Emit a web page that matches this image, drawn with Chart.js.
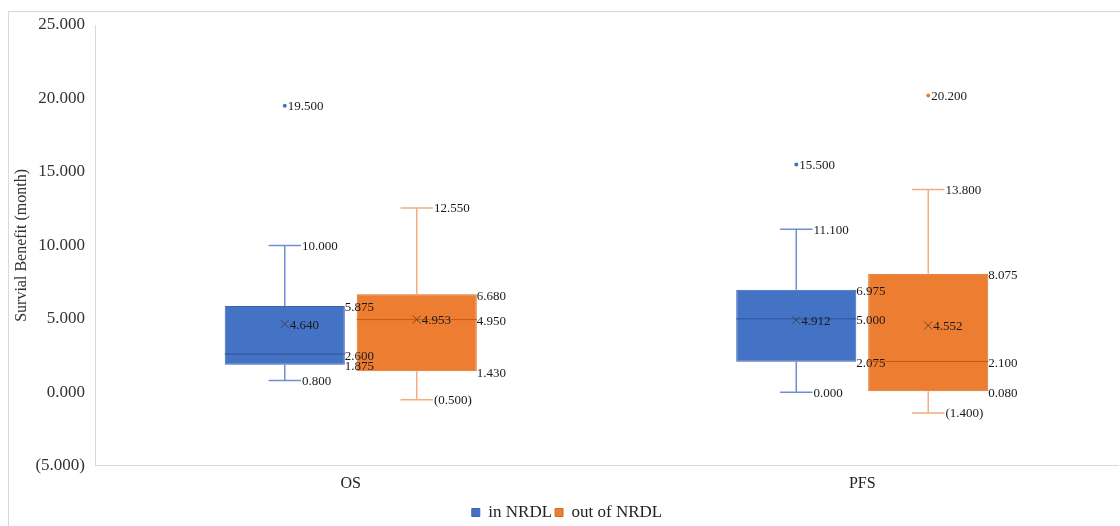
<!DOCTYPE html>
<html>
<head>
<meta charset="utf-8">
<script src="https://cdn.jsdelivr.net/npm/chart.js@4"></script>
<style>
  html, body { margin: 0; padding: 0; background: #fff; }
  #wrap { position: relative; width: 1120px; height: 526px; }
  #frame { position: absolute; left: 8px; top: 11px; right: 0; bottom: 0;
           border-left: 1px solid #d9d9d9; border-top: 1px solid #d9d9d9; }
  #chart { position: absolute; left: 0; top: 0; }
</style>
</head>
<body>
<div id="wrap">
  <div id="frame"></div>
  <canvas id="chart" width="1120" height="526"></canvas>
</div>
<script>
// Categories and series
const categories = ['OS', 'PFS'];
const seriesNames = ['in NRDL', 'out of NRDL'];

// in NRDL box stats
const inMin = [0.8, 0.0];
const inQ1 = [1.875, 2.075];
const inMedian = [2.6, 5.0];
const inQ3 = [5.875, 6.975];
const inMax = [10.0, 11.1];
const inMean = [4.640, 4.912];
const inOutliers = [[19.5], [15.5]];

// out of NRDL box stats
const outMin = [-0.5, -1.4];
const outQ1 = [1.43, 0.08];
const outMedian = [4.95, 2.1];
const outQ3 = [6.68, 8.075];
const outMax = [12.55, 13.8];
const outMean = [4.953, 4.552];
const outOutliers = [[], [20.2]];

// y axis ticks
const yMin = -5;
const yMax = 25;
const yStep = 5;

const boxStats = [
  { min: inMin, q1: inQ1, median: inMedian, q3: inQ3, max: inMax, mean: inMean, outliers: inOutliers },
  { min: outMin, q1: outQ1, median: outMedian, q3: outQ3, max: outMax, mean: outMean, outliers: outOutliers }
];

const fillColors = ['#4472C4', '#ED7D31'];
const edgeColors = ['#3b64ae', '#d96d26'];
const whiskerColors = ['#6f8fd2', '#f2ac7f'];
const medianColors = ['#2f5597', '#c55a11'];

const serif = "'Liberation Serif', 'Times New Roman', serif";

function fmt(v) {
  return v < 0 ? '(' + Math.abs(v).toFixed(3) + ')' : v.toFixed(3);
}

// Draws whiskers, medians, means, outliers and value labels on top of the boxes
const boxPlugin = {
  id: 'boxWhiskers',
  afterDatasetsDraw(chart) {
    const ctx = chart.ctx;
    const y = chart.scales.y;
    ctx.save();
    chart.data.datasets.forEach((ds, d) => {
      const meta = chart.getDatasetMeta(d);
      const s = boxStats[d];
      meta.data.forEach((bar, i) => {
        const cx = bar.x;
        const half = bar.width / 2;
        const right = cx + half;
        const cap = bar.width * 0.135;
        const pMin = y.getPixelForValue(s.min[i]);
        const pQ1 = y.getPixelForValue(s.q1[i]);
        const pMed = y.getPixelForValue(s.median[i]);
        const pQ3 = y.getPixelForValue(s.q3[i]);
        const pMax = y.getPixelForValue(s.max[i]);
        const pMean = y.getPixelForValue(s.mean[i]);

        // whiskers
        ctx.strokeStyle = whiskerColors[d];
        ctx.lineWidth = 1.5;
        ctx.beginPath();
        ctx.moveTo(cx, pQ3); ctx.lineTo(cx, pMax);
        ctx.moveTo(cx, pQ1); ctx.lineTo(cx, pMin);
        ctx.moveTo(cx - cap, pMax); ctx.lineTo(cx + cap, pMax);
        ctx.moveTo(cx - cap, pMin); ctx.lineTo(cx + cap, pMin);
        ctx.stroke();

        // median
        ctx.strokeStyle = medianColors[d];
        ctx.lineWidth = 1;
        ctx.beginPath();
        ctx.moveTo(cx - half, pMed); ctx.lineTo(right, pMed);
        ctx.stroke();

        // mean marker
        ctx.strokeStyle = 'rgba(50,50,50,0.7)';
        ctx.beginPath();
        ctx.moveTo(cx - 4, pMean - 4); ctx.lineTo(cx + 4, pMean + 4);
        ctx.moveTo(cx - 4, pMean + 4); ctx.lineTo(cx + 4, pMean - 4);
        ctx.stroke();

        // outliers
        ctx.fillStyle = fillColors[d];
        s.outliers[i].forEach(v => {
          ctx.beginPath();
          ctx.arc(cx, y.getPixelForValue(v), 2, 0, Math.PI * 2);
          ctx.fill();
        });

        // labels
        ctx.fillStyle = '#1a1a1a';
        ctx.font = '13px ' + serif;
        ctx.textAlign = 'left';
        ctx.textBaseline = 'middle';
        ctx.fillText(fmt(s.max[i]), cx + cap + 1, pMax + 1);
        ctx.fillText(fmt(s.min[i]), cx + cap + 1, pMin + 1);
        ctx.fillText(fmt(s.q3[i]), right, pQ3 + 2);
        ctx.fillText(fmt(s.q1[i]), right, pQ1 + 2);
        ctx.fillText(fmt(s.median[i]), right, pMed + 2);
        ctx.fillText(fmt(s.mean[i]), cx + 5, pMean + 1);
        s.outliers[i].forEach(v => {
          ctx.fillText(fmt(v), cx + 3, y.getPixelForValue(v) + 1);
        });
      });
    });
    ctx.restore();
  }
};

new Chart(document.getElementById('chart'), {
  type: 'bar',
  data: {
    labels: categories,
    datasets: seriesNames.map((name, d) => ({
      label: name,
      data: categories.map((c, i) => [boxStats[d].q1[i], boxStats[d].q3[i]]),
      backgroundColor: fillColors[d],
      borderColor: edgeColors[d],
      borderWidth: 1,
      borderSkipped: false,
      barPercentage: 0.91,
      categoryPercentage: 0.516
    }))
  },
  options: {
    responsive: false,
    animation: false,
    layout: { padding: { top: 25, right: 2, left: 16, bottom: -5 } },
    plugins: {
      tooltip: { enabled: false },
      legend: {
        position: 'bottom',
        labels: {
          boxWidth: 8,
          boxHeight: 8,
          padding: 3,
          color: '#222',
          font: { family: serif, size: 17 }
        }
      }
    },
    scales: {
      x: {
        grid: { display: false, drawTicks: false },
        border: { display: true, color: '#d9d9d9' },
        ticks: { color: '#222', padding: 8, font: { family: serif, size: 16 } }
      },
      y: {
        min: yMin,
        max: yMax,
        grid: { display: false, drawTicks: false },
        border: { display: true, color: '#d9d9d9' },
        ticks: {
          stepSize: yStep,
          padding: 10,
          color: '#333',
          font: { family: serif, size: 17 },
          callback: v => fmt(v)
        },
        title: {
          display: true,
          text: 'Survial Benefit (month)',
          color: '#333',
          padding: { top: -4, bottom: 0 },
          font: { family: serif, size: 16 }
        },
        afterFit: scale => { scale.width = 79; }
      }
    }
  },
  plugins: [boxPlugin]
});
</script>
</body>
</html>
